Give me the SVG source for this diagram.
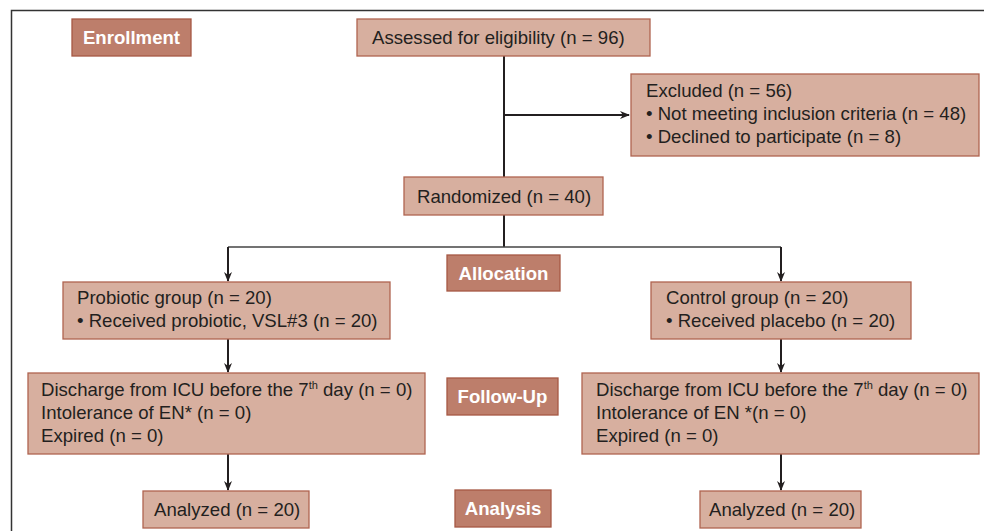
<svg xmlns="http://www.w3.org/2000/svg" width="984" height="531" viewBox="0 0 984 531">
<defs>
<style>
.box{fill:#d7af9f;stroke:#b06450;stroke-width:1.3}
.lab{fill:#bd7e6b;stroke:#a65844;stroke-width:1.3}
.t{font-family:"Liberation Sans",Arial,sans-serif;font-size:18.6px;fill:#231f20}
.lt{font-family:"Liberation Sans",Arial,sans-serif;font-size:18.6px;font-weight:bold;fill:#ffffff;text-anchor:middle}
.sup{font-size:11px}
.c{stroke:#231f20;stroke-width:2;fill:none}
.h{stroke:#444;stroke-width:1.6;fill:none}
</style>
<marker id="ah" markerWidth="10" markerHeight="10" refX="9" refY="5" orient="auto" markerUnits="userSpaceOnUse">
<path d="M0,1 L10,5 L0,9 L3,5 Z" fill="#231f20"/>
</marker>
</defs>
<rect width="984" height="531" fill="#ffffff"/>
<path d="M11.5,531 V10.5 H984" stroke="#333" stroke-width="1.5" fill="none"/>
<g id="connectors">
<path class="c" d="M504,56 V177"/>
<path class="c" d="M504,115 H629" marker-end="url(#ah)"/>
<path class="c" d="M504,215 V247"/>
<path class="h" d="M228,247 H781"/>
<path class="c" d="M228,247 V281" marker-end="url(#ah)"/>
<path class="c" d="M781,247 V281" marker-end="url(#ah)"/>
<path class="c" d="M228,339 V372" marker-end="url(#ah)"/>
<path class="c" d="M781,339 V372" marker-end="url(#ah)"/>
<path class="c" d="M228,454 V490" marker-end="url(#ah)"/>
<path class="c" d="M781,454 V490" marker-end="url(#ah)"/>
</g>
<g id="enrollment"><rect class="lab" x="72" y="19" width="119" height="37"/><text class="lt" x="131.5" y="44">Enrollment</text></g>
<g id="assessed"><rect class="box" x="357" y="19" width="293" height="37"/><text class="t" x="372" y="44">Assessed for eligibility (n = 96)</text></g>
<g id="excluded"><rect class="box" x="631" y="74" width="348" height="82"/>
<text class="t" x="646" y="97">Excluded (n = 56)</text>
<text class="t" x="646" y="120">• Not meeting inclusion criteria (n = 48)</text>
<text class="t" x="646" y="143">• Declined to participate (n = 8)</text></g>
<g id="randomized"><rect class="box" x="404" y="177" width="199" height="38"/><text class="t" x="417" y="203">Randomized (n = 40)</text></g>
<g id="allocation"><rect class="lab" x="447" y="255" width="113" height="36"/><text class="lt" x="503.5" y="280">Allocation</text></g>
<g id="probiotic"><rect class="box" x="63" y="282" width="327" height="57"/>
<text class="t" x="77" y="304">Probiotic group (n = 20)</text>
<text class="t" x="77" y="327">• Received probiotic, VSL#3 (n = 20)</text></g>
<g id="control"><rect class="box" x="651" y="282" width="260" height="57"/>
<text class="t" x="666" y="304">Control group (n = 20)</text>
<text class="t" x="666" y="327">• Received placebo (n = 20)</text></g>
<g id="followup-left"><rect class="box" x="28" y="373" width="397" height="81"/>
<text class="t" x="41" y="396">Discharge from ICU before the 7<tspan class="sup" dy="-7">th</tspan><tspan dy="7"> day (n = 0)</tspan></text>
<text class="t" x="41" y="419">Intolerance of EN* (n = 0)</text>
<text class="t" x="41" y="442">Expired (n = 0)</text></g>
<g id="followup"><rect class="lab" x="447" y="378" width="111" height="37"/><text class="lt" x="502.5" y="403">Follow-Up</text></g>
<g id="followup-right"><rect class="box" x="582" y="373" width="397" height="81"/>
<text class="t" x="596" y="396">Discharge from ICU before the 7<tspan class="sup" dy="-7">th</tspan><tspan dy="7"> day (n = 0)</tspan></text>
<text class="t" x="596" y="419">Intolerance of EN *(n = 0)</text>
<text class="t" x="596" y="442">Expired (n = 0)</text></g>
<g id="analyzed-left"><rect class="box" x="143" y="491" width="166" height="37"/><text class="t" x="154" y="516">Analyzed (n = 20)</text></g>
<g id="analysis"><rect class="lab" x="455" y="490" width="96" height="37"/><text class="lt" x="503" y="515">Analysis</text></g>
<g id="analyzed-right"><rect class="box" x="700" y="491" width="161" height="37"/><text class="t" x="709" y="516">Analyzed (n = 20)</text></g>
</svg>
